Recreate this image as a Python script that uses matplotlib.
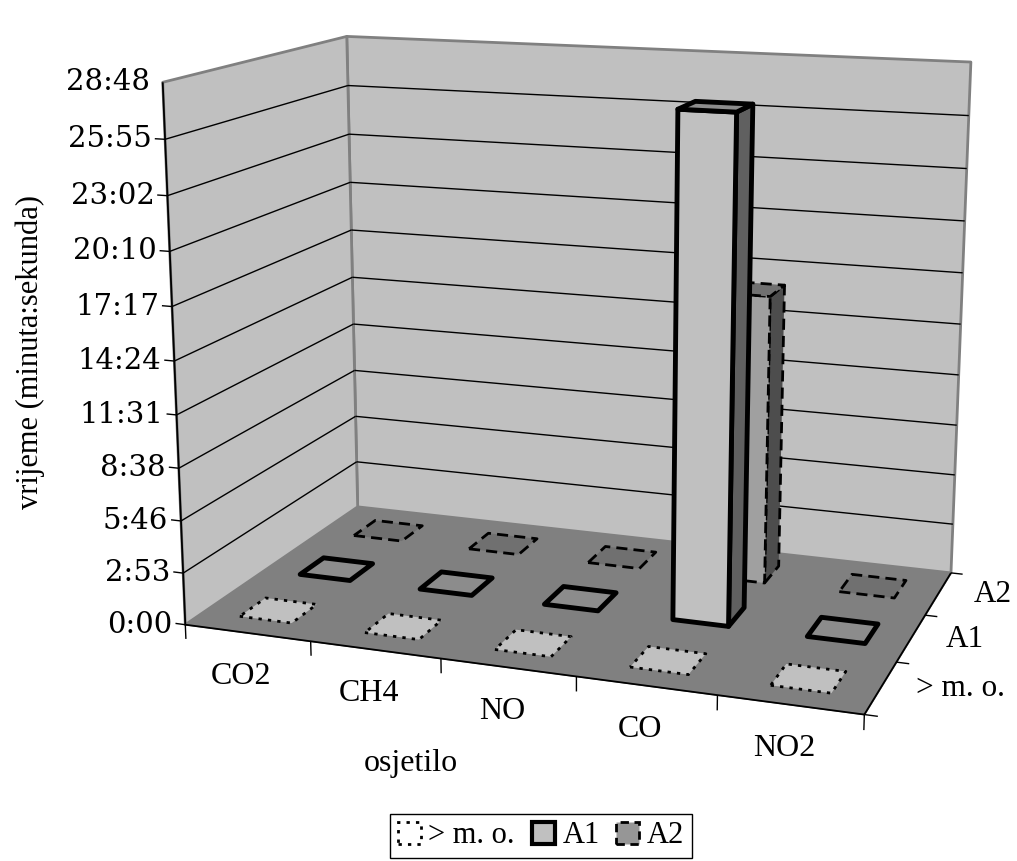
import numpy as np
import matplotlib
matplotlib.use("Agg")
import matplotlib.pyplot as plt
from matplotlib.patches import Patch
from mpl_toolkits.mplot3d import proj3d
from mpl_toolkits.mplot3d.art3d import Poly3DCollection, Line3DCollection

# ---- data -------------------------------------------------------------
categories = ["CO2", "CH4", "NO", "CO", "NO2"]
series = ["> m. o.", "A1", "A2"]
# time (seconds) per sensor and alarm level
t_mo = [0, 0, 0, 0, 0]
t_a1 = [0, 0, 0, 1640, 0]
t_a2 = [0, 0, 0, 980, 0]
z_tick_step = 172.8  # 0.002 day
z_tick_labels = ["0:00", "2:53", "5:46", "8:38", "11:31", "14:24",
                 "17:17", "20:10", "23:02", "25:55", "28:48"]

values = [t_mo, t_a1, t_a2]

# ---- styles -----------------------------------------------------------
TEXT_FONT = ["Liberation Serif", "DejaVu Serif"]
NUM_FONT = ["DejaVu Serif"]
FS_TEXT = 23
FS_NUM = 21
plt.rcParams["font.family"] = TEXT_FONT
WALL = "#C0C0C0"
FLOOR = "#808080"
styles = [
    dict(front="#C0C0C0", side="#7A7A7A", top="#C0C0C0", ls=(0, (1.2, 2.2)), lw=2.0),
    dict(front="#C0C0C0", side="#606060", top="#8C8C8C", ls="solid", lw=3.5),
    dict(front="#A0A0A0", side="#4D4D4D", top="#707070", ls=(0, (4, 2.2)), lw=2.0),
]
BAR_W = 0.42
BAR_D = 0.42

W, H = 1017, 861
fig = plt.figure(figsize=(W / 100, H / 100), dpi=100)
side_px = 1100
ox, oy = 580, 342          # pixel position of the box centre
frac = 0.095 / 0.185       # where the 3D view origin sits inside the axes
ax = fig.add_axes([(ox - frac * side_px) / W, (H - oy - frac * side_px) / H,
                   side_px / W, side_px / H], projection="3d")
ax.patch.set_alpha(0)
ax.computed_zorder = False
ax.set_proj_type("persp", focal_length=0.40)
ax.view_init(elev=13.7, azim=-70.5)

nx, ny = len(categories), len(series)
zmax = z_tick_step * (len(z_tick_labels) - 1)
x0, x1 = -0.5, nx - 0.5
y0, y1 = -0.5, ny - 0.5
ax.set_xlim(x0, x1)
ax.set_ylim(y0, y1)
ax.set_zlim(0, zmax)
ax.set_box_aspect((5, 2.97, 3.93), zoom=0.853)
ax.set_axis_off()

# ---- walls and floor --------------------------------------------------
left_wall = [(x0, y0, 0), (x0, y1, 0), (x0, y1, zmax), (x0, y0, zmax)]
back_wall = [(x0, y1, 0), (x1, y1, 0), (x1, y1, zmax), (x0, y1, zmax)]
floor = [(x0, y0, 0), (x1, y0, 0), (x1, y1, 0), (x0, y1, 0)]
ax.add_collection3d(Poly3DCollection([left_wall, back_wall], facecolors=WALL,
                                     edgecolors="#808080", linewidths=2, zorder=1))
ax.add_collection3d(Poly3DCollection([floor], facecolors=FLOOR,
                                     edgecolors=FLOOR, linewidths=0.5, zorder=1.5))

# gridlines on the walls
grid = []
for k in range(1, len(z_tick_labels) - 1):
    z = k * z_tick_step
    grid.append([(x0, y0, z), (x0, y1, z)])
    grid.append([(x0, y1, z), (x1, y1, z)])
ax.add_collection3d(Line3DCollection(grid, colors="black", linewidths=1, zorder=2))

# axis lines
axis_lines = [
    [(x0, y0, 0), (x0, y0, zmax)],
    [(x0, y0, 0), (x1, y0, 0)],
    [(x1, y0, 0), (x1, y1, 0)],
]
ax.add_collection3d(Line3DCollection(axis_lines, colors="black", linewidths=1.3, zorder=2.5))

# ---- bars (back rows first) ------------------------------------------
def box_faces(xc, yc, h):
    xa, xb = xc - BAR_W / 2, xc + BAR_W / 2
    ya, yb = yc - BAR_D / 2, yc + BAR_D / 2
    top = [(xa, ya, h), (xb, ya, h), (xb, yb, h), (xa, yb, h)]
    front = [(xa, ya, 0), (xb, ya, 0), (xb, ya, h), (xa, ya, h)]
    side = [(xb, ya, 0), (xb, yb, 0), (xb, yb, h), (xb, ya, h)]
    return top, front, side

zo = 3
for j in reversed(range(ny)):
    st = styles[j]
    for i in range(nx):
        h = values[j][i]
        top, front, side = box_faces(i, j, h)
        if h > 0:
            faces, cols = [front, side, top], [st["front"], st["side"], st["top"]]
        else:
            faces, cols = [top], [st["top"]]
        ax.add_collection3d(Poly3DCollection(faces, facecolors=cols, edgecolors="black",
                                             linewidths=st["lw"], linestyles=st["ls"],
                                             zorder=zo))
        zo += 0.01

# ---- ticks ------------------------------------------------------------
ticks = []
for k in range(len(z_tick_labels) - 1):
    z = k * z_tick_step
    ticks.append([(x0, y0, z), (x0 - 0.08, y0, z)])
for b in np.arange(x0, x1 + 0.01, 1.0):
    ticks.append([(b, y0, 0), (b, y0, -48)])
for b in np.arange(y0, y1 + 0.01, 1.0):
    ticks.append([(x1, b, 0), (x1 + 0.09, b, 0)])
ax.add_collection3d(Line3DCollection(ticks, colors="black", linewidths=1, zorder=6))

# ---- tick labels: project anchor points through the 3D view ----------
M = ax.get_proj()


def to2d(x, y, z):
    px, py, _ = proj3d.proj_transform(x, y, z, M)
    return px, py


def label(s, xyz, dx, dy, ha, va, size, family):
    ax.annotate(s, xy=to2d(*xyz), xycoords="data", xytext=(dx, dy),
                textcoords="offset pixels", ha=ha, va=va, fontsize=size,
                family=family, annotation_clip=False)


for k, lab in enumerate(z_tick_labels):
    label(lab, (x0, y0, k * z_tick_step), -13, 0, "right", "center", FS_NUM, NUM_FONT)
for i, cat in enumerate(categories):
    label(cat, (i, y0, 0), -6, -44, "center", "center", FS_TEXT, TEXT_FONT)
for j, s in enumerate(series):
    label(s, (x1, j, 0), 35, -1, "left", "center", 22.5, TEXT_FONT)

fig.text(30 / W, 1 - 352 / H, "vrijeme (minuta:sekunda)", rotation=90,
         ha="center", va="center", fontsize=22)
fig.text(411 / W, 1 - 764 / H, "osjetilo", ha="center", va="center", fontsize=FS_TEXT)

# ---- legend -----------------------------------------------------------
handles = [
    Patch(facecolor="white", edgecolor="black", linestyle=(0, (1.2, 2.2)), linewidth=2),
    Patch(facecolor="#C0C0C0", edgecolor="black", linewidth=3),
    Patch(facecolor="#969696", edgecolor="black", linestyle=(0, (3, 2)), linewidth=2),
]
leg = fig.legend(handles, series, loc="lower center", bbox_to_anchor=(541 / W, 3 / H),
                 ncol=3, frameon=True, fancybox=False, edgecolor="black", framealpha=1,
                 handlelength=0.75, handleheight=0.75, handletextpad=0.25,
                 columnspacing=0.55, borderpad=0.25, borderaxespad=0, fontsize=22)
leg.get_frame().set_linewidth(1)

fig.savefig("out.png", dpi=100)
